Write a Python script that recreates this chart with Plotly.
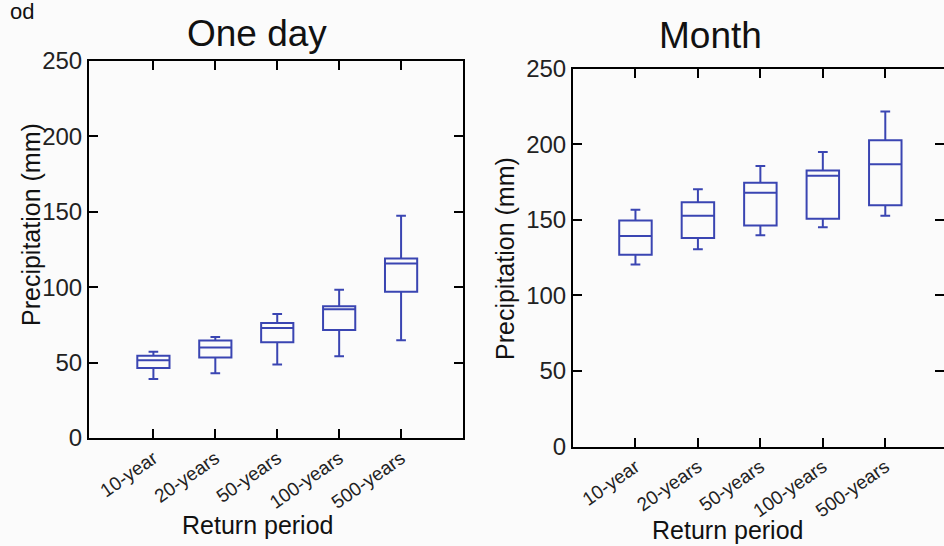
import plotly.graph_objects as go

categories = ["10-year", "20-years", "50-years", "100-years", "500-years"]

# One day panel (mm)
day_low = [39.2, 43.0, 48.7, 54.2, 64.9]
day_q1 = [46.4, 53.3, 63.5, 71.6, 97.0]
day_med = [51.5, 60.0, 73.0, 85.4, 115.7]
day_q3 = [54.5, 64.6, 76.2, 87.3, 119.1]
day_high = [57.2, 67.0, 82.2, 98.3, 147.3]

# Month panel (mm)
mon_low = [120.4, 130.5, 139.7, 145.0, 152.6]
mon_q1 = [126.8, 137.9, 146.2, 150.6, 159.5]
mon_med = [139.3, 152.6, 167.8, 179.1, 186.7]
mon_q3 = [149.4, 161.6, 174.5, 182.6, 202.6]
mon_high = [156.5, 170.1, 185.5, 194.8, 221.5]

y_ticks = [0, 50, 100, 150, 200, 250]

BLUE = "#3a45b2"
FONT = "Liberation Sans, Arial, sans-serif"

fig = go.Figure()

box_style = dict(
    line=dict(color=BLUE, width=2),
    fillcolor="rgba(0,0,0,0)",
    width=0.52,
    whiskerwidth=0.3,
    boxpoints=False,
    showlegend=False,
    hoverinfo="skip",
)

fig.add_trace(go.Box(x=categories, q1=day_q1, median=day_med, q3=day_q3,
                     lowerfence=day_low, upperfence=day_high,
                     xaxis="x", yaxis="y", **box_style))
fig.add_trace(go.Box(x=categories, q1=mon_q1, median=mon_med, q3=mon_q3,
                     lowerfence=mon_low, upperfence=mon_high,
                     xaxis="x2", yaxis="y2", **box_style))

W, H = 944, 546

def px_x(p):
    return p / W

def px_y(p):
    return (H - p) / H

axis_common = dict(
    showline=True, linecolor="black", linewidth=2,
    mirror="ticks", ticks="inside", ticklen=9, tickwidth=2, tickcolor="black",
    showgrid=False, zeroline=False, automargin=False,
)

xaxis_common = dict(
    axis_common, type="category", tickangle=-35,
    tickfont=dict(family=FONT, size=19, color="#222"),
)
yaxis_common = dict(
    axis_common, range=[0, 250], tickvals=y_ticks,
    tickfont=dict(family=FONT, size=24, color="#222"),
)

fig.update_layout(
    width=W, height=H,
    margin=dict(l=0, r=0, t=0, b=0),
    paper_bgcolor="#fbfbfb",
    plot_bgcolor="#fbfbfb",
    xaxis=dict(xaxis_common, domain=[px_x(89), px_x(463)], range=[-1.04, 5], anchor="y"),
    yaxis=dict(yaxis_common, domain=[px_y(438), px_y(61)], anchor="x"),
    xaxis2=dict(xaxis_common, domain=[px_x(573), 1.0], range=[-1, 4.94], anchor="y2"),
    yaxis2=dict(yaxis_common, domain=[px_y(446.5), px_y(68.5)], anchor="x2"),
)

def ann(text, x, y, size, angle=0):
    return dict(text=text, x=px_x(x), y=px_y(y), xref="paper", yref="paper",
                showarrow=False, xanchor="center", yanchor="middle",
                textangle=angle, font=dict(family=FONT, size=size, color="#111"))

fig.update_layout(annotations=[
    ann("One day", 257, 33, 37),
    ann("Month", 710, 35, 37),
    ann("Precipitation (mm)", 31, 225, 25, -90),
    ann("Precipitation (mm)", 505, 258, 25, -90),
    ann("Return period", 257, 525, 25),
    ann("Return period", 727, 530, 25),
    ann("od", 22, 11, 22),
])

fig.write_html("out.html",
               config={"displayModeBar": False},
               post_script="document.body.style.margin='0';document.body.style.background='#fbfbfb';")
